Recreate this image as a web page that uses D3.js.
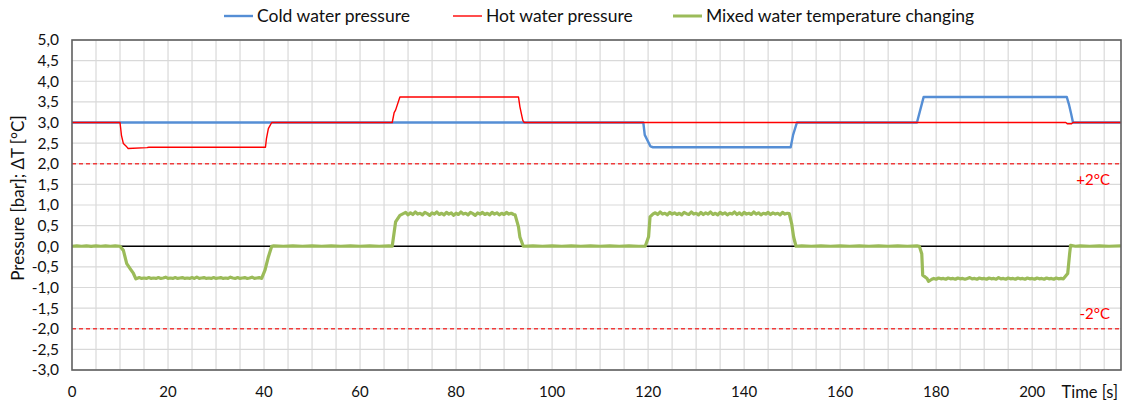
<!DOCTYPE html>
<html><head><meta charset="utf-8">
<script src="https://cdn.jsdelivr.net/npm/d3@7"></script>
<style>body{margin:0;background:#fff}svg{display:block}text{font-family:Lato,"Open Sans",sans-serif;fill:#111}</style>
</head><body><svg id="c" width="1133" height="408"></svg>
<script>
const seriesNames = ["Cold water pressure", "Hot water pressure", "Mixed water temperature changing"];
const xTicks = [0,20,40,60,80,100,120,140,160,180,200];
const yTicks = [-3,-2.5,-2,-1.5,-1,-0.5,0,0.5,1,1.5,2,2.5,3,3.5,4,4.5,5];
const limitLines = [{v:2,label:"+2°C"},{v:-2,label:"-2°C"}];

const coldPressure = [[0,3],[119,3],[119.3,2.7],[120.5,2.42],[121,2.4],[149.7,2.4],[150.2,2.7],[151,3],[176,3],[177.4,3.62],[207.2,3.62],[207.7,3.42],[208.1,3.22],[208.5,3],[218.5,3]];
const hotPressure = [[0,3],[10,3],[10.3,2.69],[10.7,2.49],[11.4,2.41],[11.7,2.37],[15.6,2.39],[16,2.4],[40.3,2.4],[40.5,2.61],[40.9,2.85],[41.6,3],[66.7,3],[67.1,3.24],[67.4,3.3],[68.3,3.62],[93,3.62],[93.3,3.38],[93.9,3.05],[94.2,3],[207,3],[207.3,2.97],[208.2,2.97],[208.5,3],[218.5,3]];
const mixedTemp = [
[0,0],[1,0.01],[2,0],[3,0.01],[4,-0.005],[5,0.01],[6,0],[7,0.01],[8,0],[9,0.01],[10,0],
[10.7,-0.1],[11.4,-0.42],[12.1,-0.54],[12.8,-0.66],[13.3,-0.79],
[13.5,-0.78],[14,-0.76],[14.5,-0.78],[15,-0.77],[15.5,-0.78],[16,-0.76],[16.5,-0.78],[17,-0.77],[17.5,-0.78],[18,-0.76],[18.5,-0.78],[19,-0.77],[19.5,-0.75],[20,-0.78],[20.5,-0.77],[21,-0.78],[21.5,-0.76],[22,-0.78],[22.5,-0.77],[23,-0.76],[23.5,-0.78],[24,-0.77],[24.5,-0.78],[25,-0.76],[25.5,-0.78],[26,-0.75],[26.5,-0.78],[27,-0.77],[27.5,-0.76],[28,-0.78],[28.5,-0.77],[29,-0.78],[29.5,-0.76],[30,-0.78],[30.5,-0.77],[31,-0.76],[31.5,-0.78],[32,-0.77],[32.5,-0.78],[33,-0.75],[33.5,-0.77],[34,-0.78],[34.5,-0.76],[35,-0.78],[35.5,-0.77],[36,-0.76],[36.5,-0.78],[37,-0.77],[37.5,-0.75],[38,-0.78],[38.5,-0.77],[39,-0.76],[39.5,-0.78],
[40.2,-0.58],[40.9,-0.26],[41.6,0],
[42,0.01],[44,0],[46,0.01],[48,0],[50,0.01],[52,0],[54,0.01],[56,0],[58,0.01],[60,0],[62,0.01],[64,0],[66,0.01],[66.7,0],
[67.4,0.59],[68.3,0.75],
[69,0.79],[69.5,0.82],[70,0.76],[70.5,0.81],[71,0.77],[71.5,0.83],[72,0.78],[72.5,0.80],[73,0.76],[73.5,0.82],[74,0.79],[74.5,0.75],[75,0.81],[75.5,0.78],[76,0.83],[76.5,0.77],[77,0.80],[77.5,0.76],[78,0.82],[78.5,0.78],[79,0.81],[79.5,0.75],[80,0.80],[80.5,0.77],[81,0.83],[81.5,0.78],[82,0.80],[82.5,0.76],[83,0.82],[83.5,0.79],[84,0.75],[84.5,0.81],[85,0.78],[85.5,0.82],[86,0.77],[86.5,0.80],[87,0.76],[87.5,0.82],[88,0.78],[88.5,0.81],[89,0.76],[89.5,0.80],[90,0.77],[90.5,0.82],[91,0.78],[91.5,0.80],[92,0.77],[92.3,0.76],
[93,0.47],[93.3,0.22],[94,0],
[96,0.01],[98,0],[100,0.01],[102,0],[104,0.01],[106,0],[108,0.01],[110,0],[112,0.01],[114,0],[116,0.01],[118,0],[119.4,0],
[120.1,0.23],[120.4,0.71],[121.1,0.79],
[121.5,0.81],[122,0.77],[122.5,0.83],[123,0.78],[123.5,0.80],[124,0.76],[124.5,0.82],[125,0.78],[125.5,0.81],[126,0.77],[126.5,0.80],[127,0.76],[127.5,0.82],[128,0.79],[128.5,0.77],[129,0.83],[129.5,0.78],[130,0.80],[130.5,0.76],[131,0.82],[131.5,0.77],[132,0.81],[132.5,0.78],[133,0.83],[133.5,0.77],[134,0.80],[134.5,0.76],[135,0.82],[135.5,0.78],[136,0.81],[136.5,0.76],[137,0.80],[137.5,0.78],[138,0.83],[138.5,0.77],[139,0.81],[139.5,0.76],[140,0.82],[140.5,0.78],[141,0.80],[141.5,0.77],[142,0.83],[142.5,0.78],[143,0.81],[143.5,0.76],[144,0.80],[144.5,0.78],[145,0.82],[145.5,0.77],[146,0.81],[146.5,0.78],[147,0.80],[147.5,0.76],[148,0.82],[148.5,0.78],[149,0.80],[149.4,0.79],
[149.9,0.55],[150.3,0.23],[150.8,0],
[152,0.01],[154,0],[156,0.01],[158,0],[160,0.01],[162,0],[164,0.01],[166,0],[168,0.01],[170,0],[172,0.01],[174,0],[176,0.01],[176.5,0],
[177,-0.18],[177.2,-0.70],[178.1,-0.78],[178.4,-0.85],[179.1,-0.80],
[179.5,-0.78],[180,-0.80],[180.5,-0.77],[181,-0.79],[181.5,-0.78],[182,-0.80],[182.5,-0.77],[183,-0.79],[183.5,-0.78],[184,-0.80],[184.5,-0.77],[185,-0.79],[185.5,-0.78],[186,-0.80],[186.5,-0.78],[187,-0.76],[187.5,-0.79],[188,-0.78],[188.5,-0.80],[189,-0.77],[189.5,-0.79],[190,-0.78],[190.5,-0.80],[191,-0.77],[191.5,-0.79],[192,-0.78],[192.5,-0.80],[193,-0.76],[193.5,-0.79],[194,-0.78],[194.5,-0.80],[195,-0.77],[195.5,-0.79],[196,-0.78],[196.5,-0.80],[197,-0.77],[197.5,-0.79],[198,-0.78],[198.5,-0.80],[199,-0.77],[199.5,-0.79],[200,-0.78],[200.5,-0.80],[201,-0.77],[201.5,-0.79],[202,-0.78],[202.5,-0.80],[203,-0.77],[203.5,-0.79],[204,-0.78],[204.5,-0.80],[205,-0.77],[205.5,-0.79],[206,-0.78],[206.5,-0.79],
[207.4,-0.66],[207.8,-0.18],[208,0.02],
[209,0],[210,0.01],[212,0],[214,0.01],[216,0],[218.5,0.01]
];

const svg = d3.select("#c");
const L=72, R=1121, T=40, B=370;
const x = d3.scaleLinear().domain([0,218.5]).range([L,R]);
const y = d3.scaleLinear().domain([-3,5]).range([B,T]);
const fmt = v => d3.format(".1f")(v).replace(".",",").replace("−","-");

// grid
const vgrid = d3.range(5,218,5);
svg.append("g").selectAll("line").data(vgrid).join("line")
  .attr("x1",d=>x(d)).attr("x2",d=>x(d)).attr("y1",T).attr("y2",B)
  .attr("stroke","#d9d9d9").attr("stroke-width",1.2);
svg.append("g").selectAll("line").data(yTicks).join("line")
  .attr("x1",L).attr("x2",R).attr("y1",d=>y(d)).attr("y2",d=>y(d))
  .attr("stroke","#d9d9d9").attr("stroke-width",1.2);

// limit lines
svg.append("g").selectAll("line").data(limitLines).join("line")
  .attr("x1",L).attr("x2",R).attr("y1",d=>y(d.v)).attr("y2",d=>y(d.v))
  .attr("stroke","#f03c3c").attr("stroke-width",1.4).attr("stroke-dasharray","4,3");
svg.append("g").selectAll("text").data(limitLines).join("text")
  .attr("x",1110).attr("y",d=>y(d.v)+ (d.v>0?16:-15)).attr("dy","0.35em")
  .attr("text-anchor","end").attr("font-size",15).style("fill","#ff0000")
  .text(d=>d.label);

// zero line
svg.append("line").attr("x1",L).attr("x2",R).attr("y1",y(0)).attr("y2",y(0))
  .attr("stroke","#000").attr("stroke-width",1.4);

const line = d3.line().x(d=>x(d[0])).y(d=>y(d[1]));
svg.append("path").datum(mixedTemp).attr("d",line).attr("fill","none")
  .attr("stroke","#9bbb59").attr("stroke-width",3.2).attr("stroke-linejoin","round");
svg.append("path").datum(coldPressure).attr("d",line).attr("fill","none")
  .attr("stroke","#558ed5").attr("stroke-width",2.4).attr("stroke-linejoin","round");
svg.append("path").datum(hotPressure).attr("d",line).attr("fill","none")
  .attr("stroke","#ff0000").attr("stroke-width",1.4).attr("stroke-linejoin","round");

// border
svg.append("rect").attr("x",L).attr("y",T).attr("width",R-L).attr("height",B-T)
  .attr("fill","none").attr("stroke","#5f5f5f").attr("stroke-width",1.6);

// axes labels
svg.append("g").selectAll("text").data(yTicks).join("text")
  .attr("x",59).attr("y",d=>y(d)).attr("dy","0.35em").attr("text-anchor","end")
  .attr("font-size",15.5).text(fmt);
svg.append("g").selectAll("text").data(xTicks).join("text")
  .attr("x",d=>x(d)).attr("y",392).attr("dy","0.35em").attr("text-anchor","middle")
  .attr("font-size",15).text(d=>d);
svg.append("text").attr("x",1118).attr("y",392).attr("dy","0.35em").attr("text-anchor","end")
  .attr("font-size",16.5).text("Time [s]");
svg.append("text").attr("transform","translate(24,198) rotate(-90)")
  .attr("text-anchor","middle").attr("font-size",17).text("Pressure [bar]; \u0394T [°C]");

// legend
const legX = [224,453,673];
const legColors = ["#558ed5","#ff0000","#9bbb59"];
const legW = [2.4,1.4,3];
const lg = svg.append("g").selectAll("g").data(seriesNames).join("g");
lg.append("line").attr("x1",(d,i)=>legX[i]).attr("x2",(d,i)=>legX[i]+29).attr("y1",16).attr("y2",16)
  .attr("stroke",(d,i)=>legColors[i]).attr("stroke-width",(d,i)=>legW[i]);
lg.append("text").attr("x",(d,i)=>legX[i]+33).attr("y",16).attr("dy","0.35em")
  .attr("font-size",17.5).text(d=>d);
</script></body></html>
